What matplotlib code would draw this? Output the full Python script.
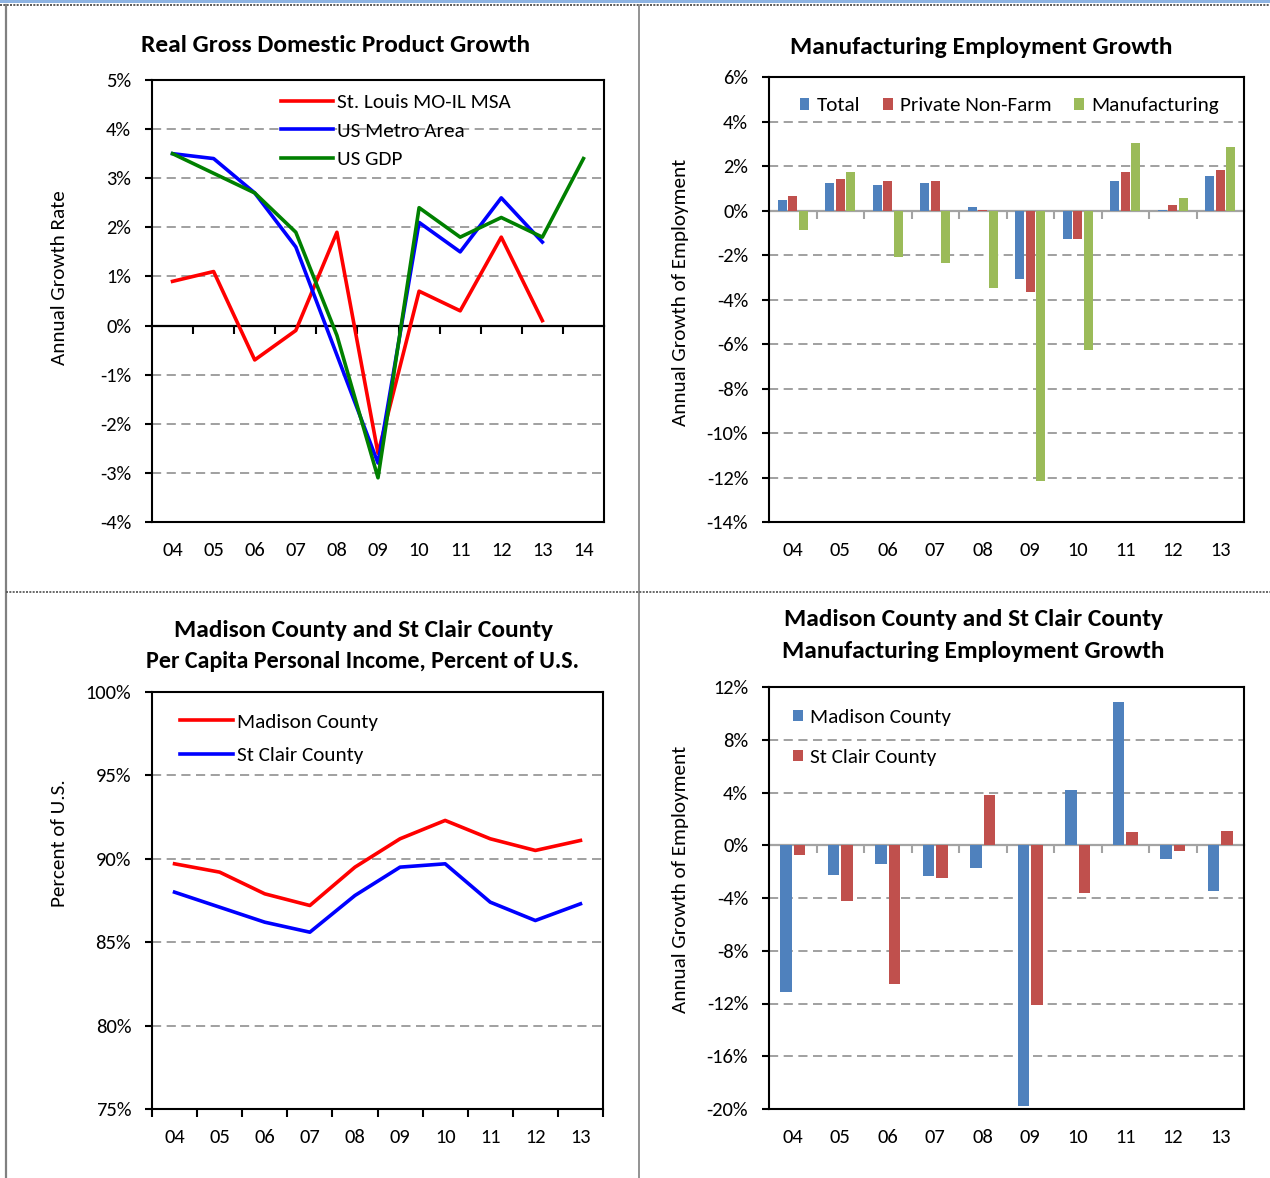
import numpy as np
import matplotlib
matplotlib.use("Agg")
import matplotlib.pyplot as plt
from matplotlib.lines import Line2D
from matplotlib.patches import Rectangle

plt.rcParams['font.family'] = ['Carlito', 'DejaVu Sans']
plt.rcParams['axes.unicode_minus'] = False

# ---------------- data ----------------
gdp_years = ['04', '05', '06', '07', '08', '09', '10', '11', '12', '13', '14']
stl_msa = [0.9, 1.1, -0.7, -0.1, 1.9, -2.6, 0.7, 0.3, 1.8, 0.1]
us_metro = [3.5, 3.4, 2.7, 1.6, -0.6, -2.8, 2.1, 1.5, 2.6, 1.7]
us_gdp = [3.5, 3.1, 2.7, 1.9, -0.2, -3.1, 2.4, 1.8, 2.2, 1.8, 3.4]

emp_years = ['04', '05', '06', '07', '08', '09', '10', '11', '12', '13']
emp_total = [0.45, 1.23, 1.13, 1.23, 0.14, -3.08, -1.28, 1.34, 0.03, 1.53]
emp_private = [0.63, 1.43, 1.34, 1.34, 0.02, -3.68, -1.28, 1.73, 0.23, 1.83]
emp_mfg = [-0.87, 1.73, -2.07, -2.37, -3.48, -12.16, -6.28, 3.03, 0.54, 2.84]

pci_years = ['04', '05', '06', '07', '08', '09', '10', '11', '12', '13']
pci_madison = [89.7, 89.2, 87.9, 87.2, 89.5, 91.2, 92.3, 91.2, 90.5, 91.1]
pci_stclair = [88.0, 87.1, 86.2, 85.6, 87.8, 89.5, 89.7, 87.4, 86.3, 87.3]

cty_years = ['04', '05', '06', '07', '08', '09', '10', '11', '12', '13']
mfg_madison = [-11.1, -2.25, -1.45, -2.35, -1.75, -19.8, 4.2, 10.9, -1.05, -3.45]
mfg_stclair = [-0.75, -4.25, -10.5, -2.45, 3.8, -12.15, -3.65, 1.0, -0.45, 1.1]

# ---------------- styling ----------------
W, H = 1270, 1178
TICK_FS = 14.8
LEG_FS = 15.2
TITLE_FS = 18.3
LABEL_FS = 15.2
GRID_C = '#868686'
ZERO_C = '#a3a3a3'
BLUE_BAR, RED_BAR, GREEN_BAR = '#4f81bd', '#c0504d', '#9bbb59'

fig = plt.figure(figsize=(W / 100, H / 100), dpi=100)


def box(l, t, r, b):
    return [l / W, 1 - b / H, (r - l) / W, (b - t) / H]


def base_style(ax, labels, ymin, ymax, step, zero_axis=None):
    n = len(labels)
    ax.set_xlim(-0.5, n - 0.5)
    ax.set_ylim(ymin, ymax)
    yt = np.arange(ymin, ymax + step / 2, step)
    ax.set_yticks(yt)
    ax.set_yticklabels([f"{int(round(v))}%" for v in yt])
    ax.tick_params(axis='y', direction='out', length=5, width=1.5,
                   pad=10, labelsize=TICK_FS, color='black')
    ax.set_xticks(range(n))
    ax.set_xticklabels(labels)
    ax.tick_params(axis='x', which='major', length=0, pad=14.2, labelsize=TICK_FS)
    for s in ax.spines.values():
        s.set_linewidth(1.5)
        s.set_color('black')
    for v in yt:
        if ymin < v < ymax and not (zero_axis and abs(v) < 1e-9):
            ax.axhline(v, color=GRID_C, lw=1.1, ls=(0, (6, 3.6)), zorder=0.5)
    if zero_axis:
        sec = ax.secondary_xaxis((0 - ymin) / (ymax - ymin))
        sec.set_alignment('bottom')
        sec.set_xticks(np.arange(0.5, n - 1, 1.0))
        sec.tick_params(axis='x', direction='out', length=6, width=1.5,
                        color=zero_axis, labelbottom=False, labeltop=False)
        for s in sec.spines.values():
            s.set_color(zero_axis)
            s.set_linewidth(1.6)
    else:
        ax.set_xticks(np.arange(-0.5, n, 1.0), minor=True)
        ax.tick_params(axis='x', which='minor', direction='out', length=6, width=1.5)


def ylabel(ax, text, x_px, left_px, width_px, y_frac):
    ax.set_ylabel(text, fontsize=LABEL_FS)
    ax.yaxis.set_label_coords((x_px - left_px) / width_px, y_frac)


# ---------- Real GDP growth ----------
ax1 = fig.add_axes(box(152, 80, 604, 522))
base_style(ax1, gdp_years, -4, 5, 1, zero_axis='black')
ax1.plot(np.arange(len(stl_msa)), stl_msa, color='#ff0000', lw=2.6,
         label='St. Louis MO-IL MSA', zorder=3)
ax1.plot(np.arange(len(us_metro)), us_metro, color='#0000ff', lw=2.6,
         label='US Metro Area', zorder=3)
ax1.plot(np.arange(len(us_gdp)), us_gdp, color='#008000', lw=2.6,
         label='US GDP', zorder=3)
ax1.legend(loc='upper left', bbox_to_anchor=(0.285, 0.969), frameon=False,
           fontsize=LEG_FS, handlelength=2.45, handletextpad=0.2, labelspacing=0.5,
           borderpad=0, borderaxespad=0)
ylabel(ax1, 'Annual Growth Rate', 68, 152, 452, 0.552)

# ---------- Manufacturing employment growth ----------
ax2 = fig.add_axes(box(769, 77, 1244, 522))
base_style(ax2, emp_years, -14, 6, 2, zero_axis=ZERO_C)
xe = np.arange(len(emp_years))
bw, off = 0.19, 0.222
ax2.bar(xe - off, emp_total, bw, color=BLUE_BAR, label='Total', zorder=2)
ax2.bar(xe, emp_private, bw, color=RED_BAR, label='Private Non-Farm', zorder=2)
ax2.bar(xe + off, emp_mfg, bw, color=GREEN_BAR, label='Manufacturing', zorder=2)
ax2.legend(loc='upper left', bbox_to_anchor=(0.065, 0.954), ncol=3, frameon=False,
           fontsize=LEG_FS, handlelength=0.45, handleheight=0.45, handletextpad=0.33,
           columnspacing=1.1, borderpad=0, borderaxespad=0)
ylabel(ax2, 'Annual Growth of Employment', 689, 769, 475, 0.517)

# ---------- Per capita personal income ----------
ax3 = fig.add_axes(box(152, 692, 603, 1109))
base_style(ax3, pci_years, 75, 100, 5)
xp = np.arange(len(pci_years))
ax3.plot(xp, pci_madison, color='#ff0000', lw=2.6, label='Madison County', zorder=3)
ax3.plot(xp, pci_stclair, color='#0000ff', lw=2.6, label='St Clair County', zorder=3)
ax3.legend(loc='upper left', bbox_to_anchor=(0.062, 0.950), frameon=False,
           fontsize=LEG_FS, handlelength=2.5, handletextpad=0.2, labelspacing=0.76,
           borderpad=0, borderaxespad=0)
ylabel(ax3, 'Percent of U.S.', 68, 152, 451, 0.638)

# ---------- County manufacturing employment ----------
ax4 = fig.add_axes(box(769, 687, 1244, 1109))
base_style(ax4, cty_years, -20, 12, 4, zero_axis=ZERO_C)
xc = np.arange(len(cty_years))
bw2, off2 = 0.246, 0.144
ax4.bar(xc - off2, mfg_madison, bw2, color=BLUE_BAR, label='Madison County', zorder=2)
ax4.bar(xc + off2, mfg_stclair, bw2, color=RED_BAR, label='St Clair County', zorder=2)
ax4.legend(loc='upper left', bbox_to_anchor=(0.05, 0.948), frameon=False,
           fontsize=LEG_FS, handlelength=0.47, handleheight=0.47, handletextpad=0.33,
           labelspacing=1.1, borderpad=0, borderaxespad=0)
ylabel(ax4, 'Annual Growth of Employment', 689, 769, 475, 0.543)

# ---------- titles ----------
def title(x, y, s, size=TITLE_FS):
    fig.text(x / W, 1 - y / H, s, ha='center', va='center',
             fontsize=size, fontweight='bold')

title(336, 45, 'Real Gross Domestic Product Growth')
title(981, 47, 'Manufacturing Employment Growth')
title(363, 630, 'Madison County and St Clair County')
title(363, 661, 'Per Capita Personal Income, Percent of U.S.', 17.3)
title(973, 619, 'Madison County and St Clair County')
title(973, 651, 'Manufacturing Employment Growth')

# ---------- page frame ----------
fig.add_artist(Rectangle((0, 1 - 3 / H), 1, 3 / H, transform=fig.transFigure,
                         facecolor='#8db3e2', edgecolor='none'))
fig.add_artist(Line2D([0, 1], [1 - 4.5 / H] * 2, transform=fig.transFigure,
                      color='#404040', lw=1.2, ls=(0, (1.2, 0.8))))
fig.add_artist(Line2D([6 / W] * 2, [0, 1 - 5 / H], transform=fig.transFigure,
                      color='#808080', lw=1.6))
fig.add_artist(Line2D([639 / W] * 2, [0, 1 - 5 / H], transform=fig.transFigure,
                      color='#808080', lw=1.2))
fig.add_artist(Line2D([6 / W, 1], [1 - 592 / H] * 2, transform=fig.transFigure,
                      color='#505050', lw=1.2, ls=(0, (1.2, 0.8))))

fig.savefig('out.png', dpi=100)
